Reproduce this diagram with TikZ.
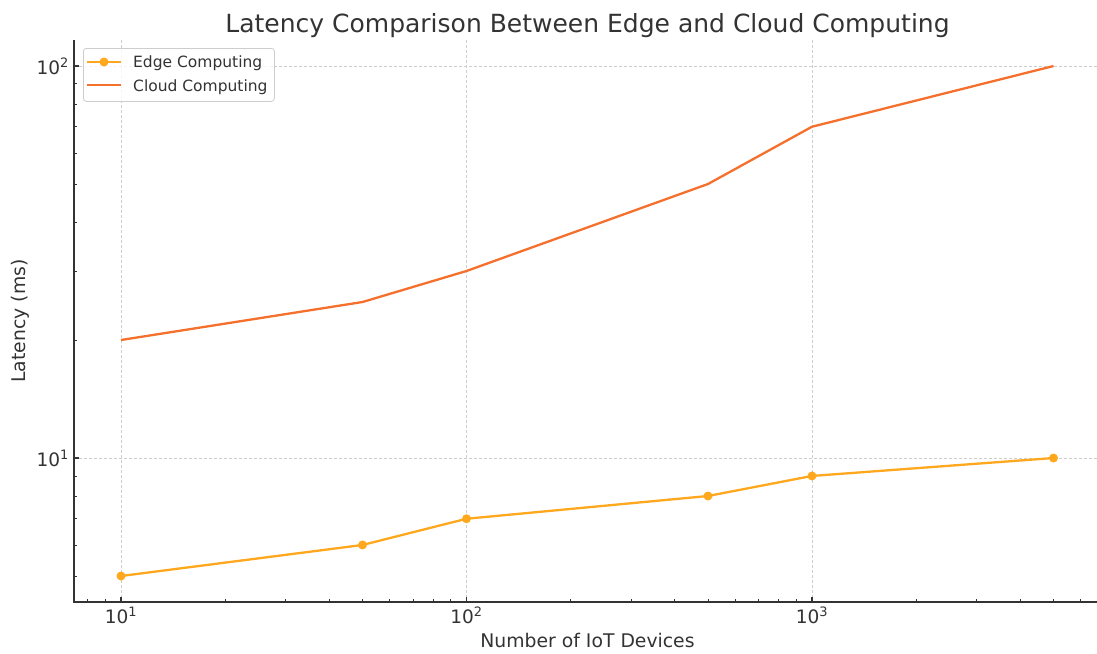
\documentclass[tikz,border=0pt]{standalone}
\usepackage{fontspec}
\setmainfont{DejaVu Sans}
\definecolor{edgec}{RGB}{255,168,30}
\definecolor{cloudc}{RGB}{245,112,45}
\definecolor{txt}{RGB}{51,51,51}
\definecolor{gridc}{RGB}{205,205,205}
\definecolor{spinec}{RGB}{51,51,51}
\begin{document}
\begin{tikzpicture}[x=1pt,y=-1pt,
  declare function={px(\v)=121+345.5*(log10(\v)-1); py(\v)=458-392*(log10(\v)-1);},
  gridline/.style={draw=gridc, line width=0.8pt, dash pattern=on 3pt off 2pt},
  spine/.style={draw=spinec, line width=1.5pt},
  majortick/.style={draw=spinec, line width=1.2pt},
  minortick/.style={draw=spinec, line width=0.9pt},
  ticklabel/.style={font=\fontsize{18.5}{22}\selectfont, text=txt, inner sep=0pt},
  axislabel/.style={font=\fontsize{18.8}{22}\selectfont, text=txt, inner sep=0pt},
  legendtext/.style={font=\fontsize{15.5}{18}\selectfont, text=txt, inner sep=0pt, anchor=base west},
  edgeline/.style={draw=edgec, line width=2.3pt, line join=round},
  cloudline/.style={draw=cloudc, line width=2.3pt, line join=round},
  edgemark/.style={fill=edgec, circle, inner sep=0pt, minimum size=9pt},
]
\useasboundingbox (0,0) rectangle (1097,653);
% grid
\foreach \v in {10,100,1000} \draw[gridline] ({px(\v)},40) -- ({px(\v)},602);
\foreach \v in {10,100} \draw[gridline] (74,{py(\v)}) -- (1097,{py(\v)});
% spines
\coordinate (ytop) at (74,40);
\coordinate (origin) at (74,602);
\coordinate (xend) at (1097,602);
\draw[spine] (ytop) -- (origin) -- (xend);
% x ticks
\foreach \v in {10,100,1000} \draw[majortick] ({px(\v)},602) -- ({px(\v)},597);
\foreach \v in {8,9,20,30,40,50,60,70,80,90,200,300,400,500,600,700,800,900,2000,3000,4000,5000,6000}
  \draw[minortick] ({px(\v)},602) -- ({px(\v)},599);
% y ticks
\foreach \v in {10,100} \draw[majortick] (74,{py(\v)}) -- (79,{py(\v)});
\foreach \v in {5,6,7,8,9,20,30,40,50,60,70,80,90}
  \draw[minortick] (74,{py(\v)}) -- (77,{py(\v)});
% tick labels
\node[ticklabel, anchor=base] (xl1) at ({px(10)},623) {10\textsuperscript{1}};
\node[ticklabel, anchor=base] (xl2) at ({px(100)},623) {10\textsuperscript{2}};
\node[ticklabel, anchor=base] (xl3) at ({px(1000)},623) {10\textsuperscript{3}};
\node[ticklabel, anchor=base east] (yl1) at (69,{py(10)+8}) {10\textsuperscript{1}};
\node[ticklabel, anchor=base east] (yl2) at (69,{py(100)+8}) {10\textsuperscript{2}};
% axis labels and title
\node[axislabel, anchor=base] (xlabel) at (587.5,647) {Number of IoT Devices};
\node[axislabel, anchor=base, rotate=90] (ylabel) at (25,321) {Latency (ms)};
\node[font=\fontsize{25}{30}\selectfont, text=txt, inner sep=0pt, anchor=base] (title) at (587.5,32) {Latency Comparison Between Edge and Cloud Computing};
% data
\coordinate (c1) at ({px(10)},{py(20)});
\coordinate (c2) at ({px(50)},{py(25)});
\coordinate (c3) at ({px(100)},{py(30)});
\coordinate (c4) at ({px(500)},{py(50)});
\coordinate (c5) at ({px(1000)},{py(70)});
\coordinate (c6) at ({px(5000)},{py(100)});
\draw[cloudline] (c1) -- (c2) -- (c3) -- (c4) -- (c5) -- (c6);
\coordinate (e1) at ({px(10)},{py(5)});
\coordinate (e2) at ({px(50)},{py(6)});
\coordinate (e3) at ({px(100)},{py(7)});
\coordinate (e4) at ({px(500)},{py(8)});
\coordinate (e5) at ({px(1000)},{py(9)});
\coordinate (e6) at ({px(5000)},{py(10)});
\draw[edgeline] (e1) -- (e2) -- (e3) -- (e4) -- (e5) -- (e6);
\foreach \p in {e1,e2,e3,e4,e5,e6} \node[edgemark] at (\p) {};
% legend
\node[draw=gridc, fill=white, fill opacity=0.8, draw opacity=1, rounded corners=3pt, line width=0.8pt,
  minimum width=191pt, minimum height=53pt, anchor=north west, inner sep=0pt] (legend) at (83,48) {};
\coordinate (la1) at (87,62);
\coordinate (lb1) at (121,62);
\draw[edgeline] (la1) -- (lb1);
\node[edgemark] (lm1) at (104,62) {};
\coordinate (la2) at (87,85);
\coordinate (lb2) at (121,85);
\draw[cloudline] (la2) -- (lb2);
\node[legendtext] (lt1) at (133,67.5) {Edge Computing};
\node[legendtext] (lt2) at (133,91) {Cloud Computing};
\end{tikzpicture}
\end{document}
